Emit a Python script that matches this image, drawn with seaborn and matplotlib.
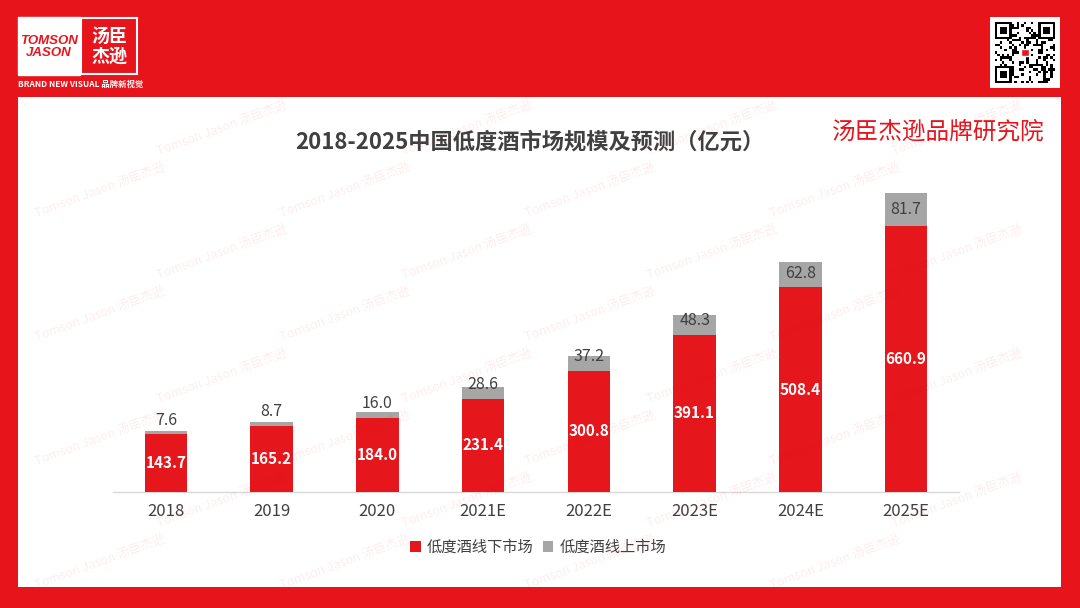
import matplotlib
matplotlib.use("Agg")
import matplotlib.pyplot as plt
from matplotlib.patches import Rectangle, Patch
import numpy as np
import seaborn as sns

# --- chart data ---
years = ["2018", "2019", "2020", "2021E", "2022E", "2023E", "2024E", "2025E"]
offline = [143.7, 165.2, 184.0, 231.4, 300.8, 391.1, 508.4, 660.9]
online = [7.6, 8.7, 16.0, 28.6, 37.2, 48.3, 62.8, 81.7]
series_names = ["低度酒线下市场", "低度酒线上市场"]
title = "2018-2025中国低度酒市场规模及预测（亿元）"
brand_text = "汤臣杰逊品牌研究院"

RED = "#E5161C"
BG_RED = "#E8141B"
GRAY = "#A6A6A6"
DARK = "#404040"

W, H = 1080, 608


def fx(px):
    return px / W


def fy(py):
    return 1 - py / H


def main():
    sns.set_theme(style="white")
    plt.rcParams["font.family"] = ["Noto Sans CJK SC", "DejaVu Sans"]

    fig = plt.figure(figsize=(10.8, 6.08), dpi=100, facecolor=BG_RED)

    # white content panel
    fig.add_artist(Rectangle((fx(18), fy(587)), fx(1061 - 18), (587 - 97) / H,
                             transform=fig.transFigure, facecolor="white",
                             edgecolor="none", zorder=0))

    # --- logo top-left ---
    fig.add_artist(Rectangle((fx(18), fy(75)), fx(62), 58 / H, transform=fig.transFigure,
                             facecolor="white", edgecolor="white", zorder=1))
    fig.add_artist(Rectangle((fx(81), fy(74)), fx(56), 56 / H, transform=fig.transFigure,
                             facecolor=BG_RED, edgecolor="white", linewidth=1.5, zorder=1))
    fig.text(fx(49), fy(47), "TOMSON\nJASON", color=BG_RED, fontsize=9.5, fontweight="bold",
             style="italic", ha="center", va="center", linespacing=1.0,
             family=["Liberation Sans", "DejaVu Sans"])
    fig.text(fx(109), fy(46), "汤臣\n杰逊", color="white", fontsize=13, fontweight="bold",
             ha="center", va="center", linespacing=1.05)
    fig.text(fx(18), fy(84), "BRAND NEW VISUAL 品牌新视觉", color="white", fontsize=6,
             fontweight="bold", style="italic", ha="left", va="center")

    # --- QR-like block top-right ---
    qax = fig.add_axes([fx(990), fy(88), fx(70), 71 / H])
    n = 25
    i, j = np.meshgrid(np.arange(n), np.arange(n))
    pattern = (((i * 7 + j * 13) ^ (i * j)) % 3 == 0).astype(float)
    for (r0, c0) in [(0, 0), (0, n - 7), (n - 7, 0)]:
        pattern[r0:r0 + 7, c0:c0 + 7] = 1
        pattern[r0 + 1:r0 + 6, c0 + 1:c0 + 6] = 0
        pattern[r0 + 2:r0 + 5, c0 + 2:c0 + 5] = 1
    pad = np.zeros((n + 4, n + 4))
    pad[2:-2, 2:-2] = pattern
    qax.imshow(pad, cmap="Greys", interpolation="nearest", aspect="auto")
    qax.add_patch(Rectangle((12.5, 12.5), 3, 3, facecolor=BG_RED, edgecolor="white"))
    qax.set_axis_off()

    # --- titles ---
    fig.text(fx(530), fy(142), title, ha="center", va="center", fontsize=16,
             fontweight="bold", color=DARK)
    fig.text(fx(938), fy(132), brand_text, ha="center", va="center", fontsize=17,
             color=BG_RED)

    # --- bars ---
    ax = fig.add_axes([fx(113), fy(492), fx(959 - 113), (492 - 150) / H])
    ax.set_facecolor("none")
    totals = [a + b for a, b in zip(offline, online)]
    sns.barplot(x=years, y=totals, color=GRAY, saturation=1, width=0.4, ax=ax,
                edgecolor="none", zorder=2)
    sns.barplot(x=years, y=offline, color=RED, saturation=1, width=0.4, ax=ax,
                edgecolor="none", zorder=3)
    ax.set_xlim(-0.5, 7.5)
    ax.set_ylim(0, 850)

    for k, (a, b) in enumerate(zip(offline, online)):
        ax.text(k, a / 2, f"{a:.1f}", ha="center", va="center", color="white",
                fontsize=11, fontweight="bold", zorder=5)
        y_on = max(a + b / 2, a + 35)
        ax.text(k, y_on, f"{b:.1f}", ha="center", va="center", color=DARK,
                fontsize=11.5, zorder=5)

    for s in ["top", "right", "left"]:
        ax.spines[s].set_visible(False)
    ax.spines["bottom"].set_color("#D9D9D9")
    ax.spines["bottom"].set_linewidth(1)
    ax.set_yticks([])
    ax.set_xlabel("")
    ax.set_ylabel("")
    ax.tick_params(axis="x", length=0, labelsize=12, labelcolor=DARK, pad=8)
    ax.grid(False)

    # legend
    handles = [Patch(facecolor=RED, edgecolor="none"), Patch(facecolor=GRAY, edgecolor="none")]
    fig.legend(handles, series_names, loc="center", bbox_to_anchor=(fx(538), fy(547)),
               ncol=2, frameon=False, fontsize=11, handlelength=0.7, handleheight=0.7,
               handletextpad=0.4, columnspacing=0.6, labelcolor=DARK)

    # watermark
    wm = "Tomson Jason 汤臣杰逊"
    for row in range(-4, 12):
        for col in range(-1, 6):
            px = 100 + col * 245 + (row % 2) * 122
            py = 190 + row * 62
            if 25 < px < 1060 and 105 < py < 585:
                fig.text(fx(px), fy(py), wm, rotation=20, ha="center", va="center",
                         fontsize=9, color=BG_RED, alpha=0.08, zorder=10)

    fig.savefig("out.png", dpi=100, facecolor=fig.get_facecolor())
    plt.close(fig)


if __name__ == "__main__":
    main()
